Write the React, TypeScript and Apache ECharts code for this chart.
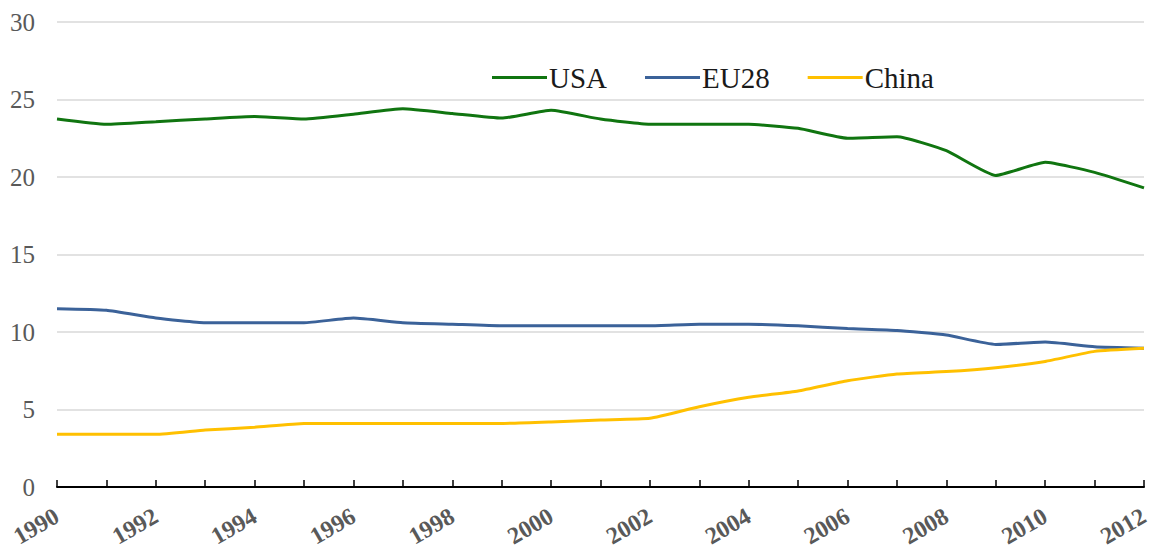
import React, { useEffect, useRef } from "react";
import * as echarts from "echarts";

const years = [
  "1990", "1991", "1992", "1993", "1994", "1995", "1996", "1997", "1998", "1999", "2000", "2001",
  "2002", "2003", "2004", "2005", "2006", "2007", "2008", "2009", "2010", "2011", "2012",
];

const usa = [
  23.74, 23.4, 23.57, 23.74, 23.9, 23.74, 24.05, 24.4, 24.1, 23.8, 24.3, 23.74,
  23.4, 23.4, 23.4, 23.14, 22.5, 22.6, 21.7, 20.1, 20.95, 20.3, 19.3,
];

const eu28 = [
  11.5, 11.4, 10.9, 10.6, 10.6, 10.6, 10.9, 10.6, 10.5, 10.4, 10.4, 10.4,
  10.4, 10.5, 10.5, 10.4, 10.22, 10.1, 9.8, 9.2, 9.35, 9.05, 8.95,
];

const china = [
  3.4, 3.4, 3.4, 3.68, 3.85, 4.1, 4.1, 4.1, 4.1, 4.1, 4.2, 4.33,
  4.43, 5.18, 5.79, 6.2, 6.86, 7.29, 7.45, 7.7, 8.1, 8.75, 8.95,
];

const yTicks = { min: 0, max: 30, interval: 5 };

export default function App() {
  const ref = useRef<HTMLDivElement>(null);

  useEffect(() => {
    if (!ref.current) return;
    const chart = echarts.init(ref.current, null, { renderer: "svg" });
    const font = "'Liberation Serif', 'Times New Roman', serif";
    chart.setOption({
      animation: false,
      backgroundColor: "#ffffff",
      grid: { left: 57, right: 8, top: 22, bottom: 68, containLabel: false, outerBoundsMode: "none" },
      legend: {
        left: 487,
        top: 58,
        icon: "rect",
        itemWidth: 55,
        itemHeight: 3,
        itemGap: 38,
        textStyle: { fontFamily: font, fontSize: 29, color: "#1a1a1a", padding: [0, 0, 0, -3] },
        data: ["USA", "EU28", "China"],
      },
      xAxis: {
        type: "category",
        data: years,
        boundaryGap: false,
        axisLine: { lineStyle: { color: "#000000", width: 2 } },
        axisTick: { inside: true, length: 7, interval: 0, lineStyle: { color: "#000000", width: 1.5 } },
        axisLabel: {
          interval: 1,
          rotate: 30,
          margin: 27,
          fontFamily: font,
          fontSize: 24,
          fontWeight: "bold",
          color: "#595959",
        },
        splitLine: { show: false },
      },
      yAxis: {
        type: "value",
        min: yTicks.min,
        max: yTicks.max,
        interval: yTicks.interval,
        axisLine: { show: false },
        axisTick: { show: false },
        axisLabel: {
          margin: 22,
          fontFamily: font,
          fontSize: 25,
          color: "#595959",
        },
        splitLine: { lineStyle: { color: "#d9d9d9", width: 1.5 } },
      },
      series: [
        {
          name: "USA",
          type: "line",
          data: usa,
          symbol: "none",
          smooth: 0.15,
          color: "#107510",
          lineStyle: { width: 3, color: "#107510" },
        },
        {
          name: "EU28",
          type: "line",
          data: eu28,
          symbol: "none",
          smooth: 0.15,
          color: "#3b6299",
          lineStyle: { width: 3, color: "#3b6299" },
        },
        {
          name: "China",
          type: "line",
          data: china,
          symbol: "none",
          smooth: 0.15,
          color: "#ffc000",
          lineStyle: { width: 3, color: "#ffc000" },
        },
      ],
    });
    return () => chart.dispose();
  }, []);

  return (
    <div
      ref={ref}
      style={{ position: "fixed", left: 0, top: 0, width: 1152, height: 555, background: "#fff" }}
    />
  );
}
